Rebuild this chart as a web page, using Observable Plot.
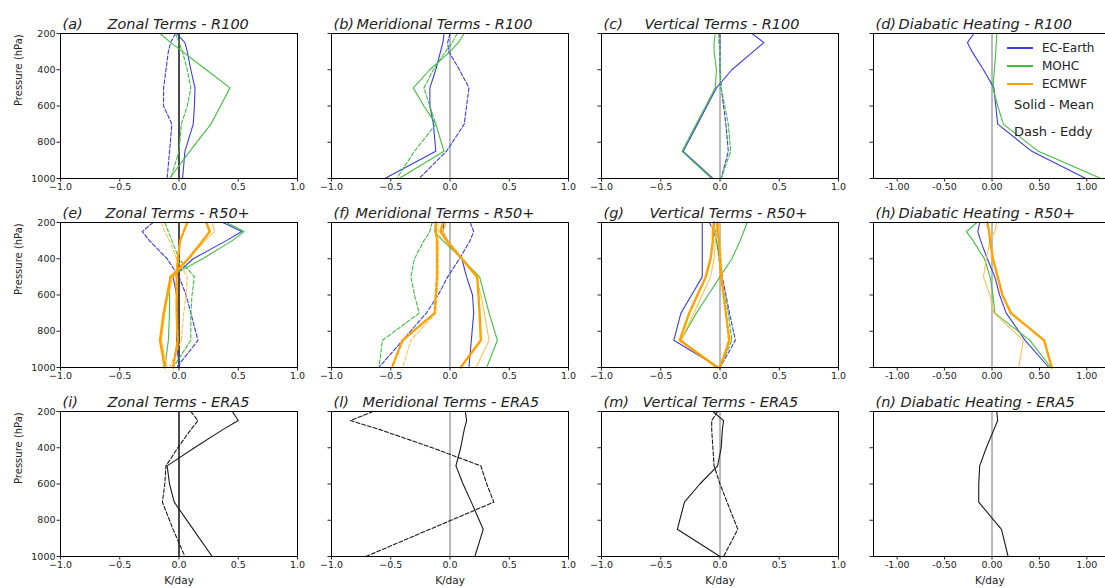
<!DOCTYPE html>
<html><head><meta charset="utf-8">
<script src="https://cdn.jsdelivr.net/npm/d3@7"></script>
<script src="https://cdn.jsdelivr.net/npm/@observablehq/plot@0.6"></script>
<style>
body{margin:0;background:#fff;font-family:"DejaVu Sans",sans-serif;}
#wrap{position:relative;width:1105px;height:588px;overflow:hidden;background:#fff;}
.pl{position:absolute;}
.lg{position:absolute;font-size:12px;color:#222;white-space:nowrap;line-height:1;}
.sw{position:absolute;width:26px;}
</style></head><body><div id="wrap"></div>
<script>
const levels = [200,250,300,400,500,600,700,850,1000];
const xTicks = [-1,-0.5,0,0.5,1];
const yTicks = [200,400,600,800,1000];

// (a) Zonal R100
const a_ec_mean = [-0.02,0.05,0.07,0.10,0.135,0.13,0.12,0.05,0.03];
const a_ec_eddy = [-0.03,-0.07,-0.09,-0.11,-0.13,-0.13,-0.06,-0.08,-0.10];
const a_mo_mean = [-0.16,-0.07,0.03,0.23,0.43,0.35,0.27,0.09,-0.08];
const a_mo_eddy = [-0.03,0.0,0.03,0.07,0.10,0.07,0.02,0.0,-0.07];
// (b) Meridional R100
const b_ec_mean = [-0.05,-0.06,-0.08,-0.12,-0.17,-0.17,-0.14,-0.12,-0.55];
const b_ec_eddy = [0.0,-0.02,-0.01,0.08,0.16,0.14,0.12,-0.03,-0.26];
const b_mo_mean = [0.12,0.07,0.0,-0.17,-0.31,-0.22,-0.12,-0.05,-0.43];
const b_mo_eddy = [0.06,0.02,-0.04,-0.14,-0.22,-0.17,-0.12,-0.30,-0.45];
// (c) Vertical R100
const c_ec_mean = [0.27,0.37,0.28,0.10,-0.03,-0.11,-0.19,-0.31,-0.06];
const c_ec_eddy = [0.0,0.0,0.0,0.0,0.01,0.03,0.05,0.07,0.01];
const c_mo_mean = [-0.04,-0.05,-0.05,-0.03,-0.04,-0.12,-0.20,-0.32,-0.07];
const c_mo_eddy = [-0.01,-0.01,0.0,0.0,0.01,0.04,0.07,0.09,0.01];
// (d) Diabatic R100
const d_ec_mean = [-0.19,-0.26,-0.21,-0.09,0.02,0.04,0.06,0.42,0.99];
const d_mo_mean = [0.05,0.045,0.04,0.025,0.01,0.06,0.12,0.49,1.15];
// (e) Zonal R50+
const e_ec_mean = [0.37,0.53,0.40,0.12,-0.05,-0.02,-0.01,-0.02,0.0];
const e_ec_eddy = [-0.22,-0.31,-0.25,-0.10,0.0,0.06,0.10,0.16,-0.02];
const e_mo_mean = [0.40,0.55,0.45,0.20,-0.08,-0.08,-0.08,-0.09,-0.12];
const e_mo_eddy = [-0.12,-0.09,-0.06,0.0,0.13,0.11,0.10,0.10,-0.05];
const e_cm_mean = [0.23,0.26,0.20,0.08,-0.07,-0.10,-0.13,-0.16,-0.12];
const e_cm_eddy = [0.07,0.04,0.01,-0.01,-0.02,-0.02,-0.02,-0.01,-0.05];
const e_c2_mean = [0.28,0.30,0.22,0.08,-0.05,-0.09,-0.12,-0.15,-0.10];
const e_c2_eddy = [-0.15,-0.12,-0.08,-0.02,0.07,0.06,0.04,0.02,-0.08];
// (f) Meridional R50+
const f_ec_mean = [-0.05,-0.06,-0.02,0.10,0.14,0.19,0.20,0.18,0.16];
const f_ec_eddy = [0.17,0.20,0.17,0.08,-0.02,-0.10,-0.20,-0.40,-0.60];
const f_mo_mean = [-0.12,-0.13,-0.06,0.10,0.25,0.29,0.33,0.40,0.31];
const f_mo_eddy = [-0.15,-0.17,-0.22,-0.30,-0.33,-0.30,-0.26,-0.57,-0.60];
const f_cm_mean = [-0.06,-0.08,-0.03,0.10,0.23,0.24,0.25,0.26,0.09];
const f_cm_eddy = [-0.12,-0.12,-0.11,-0.11,-0.11,-0.12,-0.13,-0.40,-0.49];
const f_c2_mean = [-0.03,-0.06,-0.02,0.10,0.22,0.26,0.29,0.33,0.22];
const f_c2_eddy = [-0.10,-0.10,-0.10,-0.10,-0.10,-0.11,-0.12,-0.33,-0.40];
// (g) Vertical R50+
const g_ec_mean = [-0.15,-0.15,-0.15,-0.15,-0.15,-0.24,-0.33,-0.39,-0.01];
const g_ec_eddy = [-0.09,-0.05,-0.03,0.0,0.02,0.05,0.08,0.13,0.0];
const g_mo_mean = [0.23,0.20,0.17,0.10,0.0,-0.10,-0.20,-0.33,-0.03];
const g_mo_eddy = [-0.05,-0.04,-0.03,-0.01,0.01,0.04,0.07,0.10,0.0];
const g_cm_mean = [-0.05,-0.06,-0.06,-0.08,-0.12,-0.19,-0.26,-0.34,-0.02];
const g_cm_eddy = [-0.02,-0.02,-0.01,0.0,0.01,0.03,0.05,0.08,0.0];
const g_c2_mean = [-0.03,-0.03,-0.04,-0.05,-0.08,-0.15,-0.22,-0.33,-0.02];
const g_c2_eddy = [0.0,0.0,0.0,0.01,0.02,0.03,0.05,0.07,0.0];
// (h) Diabatic R50+
const h_ec_mean = [-0.13,-0.15,-0.12,-0.05,0.03,0.08,0.15,0.35,0.60];
const h_mo_mean = [-0.16,-0.27,-0.20,-0.08,-0.02,0.01,0.03,0.40,0.62];
const h_cm_mean = [-0.05,-0.03,-0.02,0.01,0.06,0.11,0.20,0.55,0.63];
const h_c2_mean = [0.05,0.03,-0.02,-0.06,-0.09,-0.02,0.02,0.33,0.28];
// (i) Zonal ERA5
const i_mean = [0.45,0.50,0.37,0.13,-0.10,-0.08,-0.04,0.12,0.28];
const i_eddy = [0.10,0.16,0.10,-0.01,-0.11,-0.12,-0.14,-0.05,0.05];
// (l) Meridional ERA5
const l_mean = [0.13,0.14,0.12,0.09,0.05,0.11,0.18,0.28,0.21];
const l_eddy = [-0.65,-0.84,-0.59,-0.15,0.26,0.31,0.37,-0.17,-0.71];
// (m) Vertical ERA5
const m_mean = [-0.06,0.03,0.02,0.01,-0.02,-0.17,-0.30,-0.36,0.0];
const m_eddy = [-0.02,-0.07,-0.07,-0.06,-0.05,0.0,0.06,0.15,0.03];
// (n) Diabatic ERA5
const n_mean = [0.05,0.06,0.02,-0.06,-0.13,-0.14,-0.14,0.10,0.17];

const styles = {
  "EC-Earth": {stroke:"#3b3be6", w:1.1},
  "MOHC": {stroke:"#3fbf3f", w:1.1},
  "ECMWF-2": {stroke:"#ffc14d", w:1.1},
  "ECMWF": {stroke:"#ffa200", w:2.4},
  "ERA5": {stroke:"#1a1a1a", w:1.1}
};

const panels = [
  {id:"(a)", name:"Zonal Terms - R100", off:47, row:0, col:0, s:[["EC-Earth","mean",a_ec_mean],["EC-Earth","eddy",a_ec_eddy],["MOHC","mean",a_mo_mean],["MOHC","eddy",a_mo_eddy]]},
  {id:"(b)", name:"Meridional Terms - R100", off:25, row:0, col:1, s:[["EC-Earth","mean",b_ec_mean],["EC-Earth","eddy",b_ec_eddy],["MOHC","mean",b_mo_mean],["MOHC","eddy",b_mo_eddy]]},
  {id:"(c)", name:"Vertical Terms - R100", off:43, row:0, col:2, s:[["EC-Earth","mean",c_ec_mean],["EC-Earth","eddy",c_ec_eddy],["MOHC","mean",c_mo_mean],["MOHC","eddy",c_mo_eddy]]},
  {id:"(d)", name:"Diabatic Heating - R100", off:25, row:0, col:3, s:[["EC-Earth","mean",d_ec_mean],["MOHC","mean",d_mo_mean]]},
  {id:"(e)", name:"Zonal Terms - R50+", off:45, row:1, col:0, s:[["EC-Earth","mean",e_ec_mean],["EC-Earth","eddy",e_ec_eddy],["MOHC","mean",e_mo_mean],["MOHC","eddy",e_mo_eddy],["ECMWF-2","mean",e_c2_mean],["ECMWF-2","eddy",e_c2_eddy],["ECMWF","mean",e_cm_mean],["ECMWF","eddy",e_cm_eddy]]},
  {id:"(f)", name:"Meridional Terms - R50+", off:24, row:1, col:1, s:[["EC-Earth","mean",f_ec_mean],["EC-Earth","eddy",f_ec_eddy],["MOHC","mean",f_mo_mean],["MOHC","eddy",f_mo_eddy],["ECMWF-2","mean",f_c2_mean],["ECMWF-2","eddy",f_c2_eddy],["ECMWF","mean",f_cm_mean],["ECMWF","eddy",f_cm_eddy]]},
  {id:"(g)", name:"Vertical Terms - R50+", off:48, row:1, col:2, s:[["EC-Earth","mean",g_ec_mean],["EC-Earth","eddy",g_ec_eddy],["MOHC","mean",g_mo_mean],["MOHC","eddy",g_mo_eddy],["ECMWF-2","mean",g_c2_mean],["ECMWF-2","eddy",g_c2_eddy],["ECMWF","mean",g_cm_mean],["ECMWF","eddy",g_cm_eddy]]},
  {id:"(h)", name:"Diabatic Heating - R50+", off:25, row:1, col:3, s:[["EC-Earth","mean",h_ec_mean],["MOHC","mean",h_mo_mean],["ECMWF-2","mean",h_c2_mean],["ECMWF","mean",h_cm_mean]]},
  {id:"(i)", name:"Zonal Terms - ERA5", off:47, row:2, col:0, s:[["ERA5","mean",i_mean],["ERA5","eddy",i_eddy]]},
  {id:"(l)", name:"Meridional Terms - ERA5", off:31, row:2, col:1, s:[["ERA5","mean",l_mean],["ERA5","eddy",l_eddy]]},
  {id:"(m)", name:"Vertical Terms - ERA5", off:41, row:2, col:2, s:[["ERA5","mean",m_mean],["ERA5","eddy",m_eddy]]},
  {id:"(n)", name:"Diabatic Heating - ERA5", off:27, row:2, col:3, s:[["ERA5","mean",n_mean]]}
];

const colLeft = [60, 330.5, 600.5, 872.5];
const rowTop = [33, 222, 411];
const FW = 237, FH = 145;
const wrap = document.getElementById("wrap");

for (const p of panels) {
  const c = p.col, r = p.row;
  const L = c === 0 ? 60 : 30;
  const R = c === 3 ? 0 : 8;
  const T = 30, B = 33;
  const fwc = c === 3 ? 1105 - colLeft[3] : FW;
  const xdom = c === 3 ? [-1.25, -1.25 + 2.5 * fwc / FW] : [-1, 1];
  const fmt = c === 3 ? (d => d.toFixed(2)) : (d => d.toFixed(1).replace("-", "\u2212"));
  const marks = [];
  marks.push(Plot.ruleX([0], {stroke: c === 0 ? "#000" : "#777", strokeWidth: c === 0 ? 1.4 : 1}));
  for (const [model, kind, vals] of p.s) {
    const st = styles[model];
    const rows = levels.map((lv, i) => ({p: lv, v: vals[i]}));
    marks.push(Plot.line(rows, {x: "v", y: "p", stroke: st.stroke, strokeWidth: st.w,
      strokeDasharray: kind === "eddy" ? "4,2" : null}));
  }
  if (c < 3) {
    marks.push(Plot.frame({stroke: "#000", strokeWidth: 1}));
  } else {
    marks.push(Plot.ruleY([200, 1000], {stroke: "#000", strokeWidth: 1}));
    marks.push(Plot.ruleX([xdom[0]], {stroke: "#000", strokeWidth: 1}));
  }
  marks.push(Plot.axisX({ticks: xTicks, tickFormat: fmt, tickSize: 3.5, tickPadding: 1.5, fontSize: 9.5, label: null, color: "#222"}));
  marks.push(Plot.axisY({ticks: yTicks, tickFormat: c === 0 ? (d => String(d)) : (() => ""), tickSize: 3.5, tickPadding: 1.5, fontSize: 9.5, label: null, color: "#222"}));
  marks.push(Plot.text([p.id], {text: d => d, frameAnchor: "top-left", textAnchor: "start", lineAnchor: "bottom", dx: 2, dy: -5, fontSize: 14.5, fontStyle: "italic", fill: "#222"}));
  marks.push(Plot.text([p.name], {text: d => d, frameAnchor: "top-left", textAnchor: "start", lineAnchor: "bottom", dx: p.off, dy: -5, fontSize: 14.5, fontStyle: "italic", fill: "#222"}));
  if (c === 0) marks.push(Plot.text(["Pressure (hPa)"], {text: d => d, frameAnchor: "left", rotate: -90, dx: -42, fontSize: 10, fill: "#222"}));
  if (r === 2) marks.push(Plot.text(["K/day"], {text: d => d, frameAnchor: "bottom", lineAnchor: "middle", dy: 24, fontSize: 10.5, fill: "#222"}));

  const svg = Plot.plot({
    width: L + fwc + R, height: T + FH + B,
    marginLeft: L, marginRight: R, marginTop: T, marginBottom: B,
    style: {background: "transparent", fontFamily: "DejaVu Sans", overflow: "visible", maxWidth: "none"},
    x: {domain: xdom, label: null},
    y: {domain: [1000, 200], label: null},
    marks
  });
  svg.classList.add("pl");
  svg.style.left = (colLeft[c] - L) + "px";
  svg.style.top = (rowTop[r] - T) + "px";
  wrap.appendChild(svg);
}

// legend (panel d)
const legendItems = [["EC-Earth", "#3b3be6", 1.5, 48], ["MOHC", "#3fbf3f", 1.5, 66], ["ECMWF", "#ffa200", 2.5, 84]];
for (const [name, col, w, y] of legendItems) {
  const sw = document.createElement("div");
  sw.className = "sw";
  sw.style.left = "1007px"; sw.style.top = (y - w / 2) + "px";
  sw.style.height = w + "px";
  sw.style.backgroundColor = col;
  wrap.appendChild(sw);
  const t = document.createElement("div");
  t.className = "lg"; t.textContent = name;
  t.style.left = "1042px"; t.style.top = (y - 6.5) + "px";
  wrap.appendChild(t);
}
for (const [txt, y] of [["Solid - Mean", 105], ["Dash - Eddy", 132]]) {
  const t = document.createElement("div");
  t.className = "lg"; t.textContent = txt;
  t.style.fontSize = "13px";
  t.style.left = "1014px"; t.style.top = (y - 7) + "px";
  wrap.appendChild(t);
}
</script></body></html>
